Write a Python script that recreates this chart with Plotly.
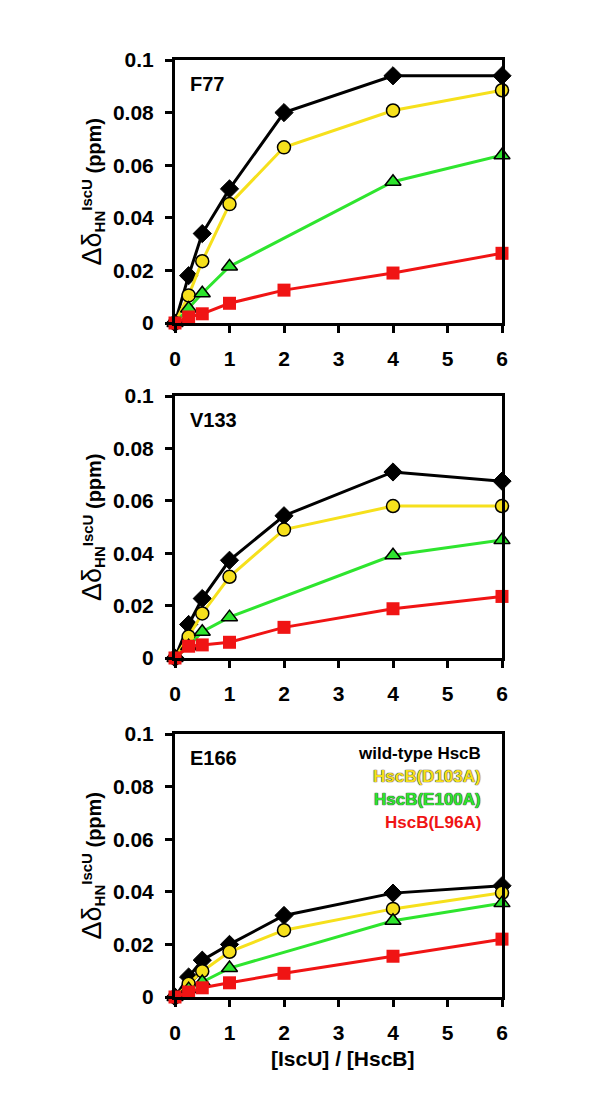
import plotly.graph_objects as go

# ---------------- data ----------------
x_main = [0, 0.25, 0.5, 1, 2, 4, 6]
x_green = [0, 0.25, 0.5, 1, 4, 6]

panels = ["F77", "V133", "E166"]

wt_F77 = [0, 0.018, 0.034, 0.051, 0.080, 0.094, 0.094]
d103_F77 = [0, 0.0105, 0.0235, 0.0452, 0.0668, 0.0808, 0.0885]
e100_F77 = [0, 0.0055, 0.0113, 0.0215, 0.0537, 0.0638]
l96_F77 = [0, 0.0023, 0.0035, 0.0075, 0.0125, 0.0190, 0.0265]

wt_V133 = [0, 0.0128, 0.0227, 0.0373, 0.0543, 0.0710, 0.0675]
d103_V133 = [0, 0.0082, 0.0170, 0.0310, 0.0490, 0.0580, 0.0580]
e100_V133 = [0, 0.0045, 0.0100, 0.0156, 0.0392, 0.0450]
l96_V133 = [0, 0.0045, 0.0050, 0.0060, 0.0117, 0.0188, 0.0235]

wt_E166 = [0, 0.0076, 0.0140, 0.0200, 0.0310, 0.0395, 0.0423]
d103_E166 = [0, 0.0050, 0.0098, 0.0172, 0.0254, 0.0335, 0.0396]
e100_E166 = [0, 0.0030, 0.0057, 0.0110, 0.0290, 0.0357]
l96_E166 = [0, 0.0019, 0.0035, 0.0054, 0.0090, 0.0155, 0.0220]

series_names = ["wild-type HscB", "HscB(D103A)", "HscB(E100A)", "HscB(L96A)"]

y_tickvals = [0, 0.02, 0.04, 0.06, 0.08, 0.1]
y_ticktext = ["0", "0.02", "0.04", "0.06", "0.08", "0.1"]
x_tickvals = [0, 1, 2, 3, 4, 5, 6]
x_ticktext = ["0", "1", "2", "3", "4", "5", "6"]

data = [
    (wt_F77, d103_F77, e100_F77, l96_F77),
    (wt_V133, d103_V133, e100_V133, l96_V133),
    (wt_E166, d103_E166, e100_E166, l96_E166),
]

# ---------------- style ----------------
W, H = 600, 1108
OFF = 8  # page body margin
FONT = "Liberation Sans, Arial, sans-serif"
BLACK = "#000000"
YELLOW = "#f6e01c"
GREEN = "#2ee52e"
RED = "#f01414"

x_left, x_right = 175, 502
panel_px = [(60, 323), (396, 658), (734, 997)]  # (top, bottom) in pixels


def fx(p):
    return (p - OFF) / W


def fy(p):
    return 1 - (p - OFF) / H


fig = go.Figure()

for i, (wt, d103, e100, l96) in enumerate(data):
    xa = "x" if i == 0 else f"x{i+1}"
    ya = "y" if i == 0 else f"y{i+1}"
    common = dict(xaxis=xa, yaxis=ya, mode="lines+markers", cliponaxis=False,
                  showlegend=False, hoverinfo="x+y")
    fig.add_trace(go.Scatter(x=x_main, y=wt, name=series_names[0],
                             line=dict(color=BLACK, width=3),
                             marker=dict(symbol="diamond", size=14, color=BLACK,
                                         line=dict(color=BLACK, width=1)), **common))
    fig.add_trace(go.Scatter(x=x_main, y=d103, name=series_names[1],
                             line=dict(color=YELLOW, width=3),
                             marker=dict(symbol="circle", size=13, color=YELLOW,
                                         line=dict(color=BLACK, width=1.5)), **common))
    fig.add_trace(go.Scatter(x=x_green, y=e100, name=series_names[2],
                             line=dict(color=GREEN, width=3),
                             marker=dict(symbol="triangle-up", size=14, color=GREEN,
                                         line=dict(color=BLACK, width=1.5)), **common))
    fig.add_trace(go.Scatter(x=x_main, y=l96, name=series_names[3],
                             line=dict(color=RED, width=3),
                             marker=dict(symbol="square", size=13, color=RED,
                                         line=dict(color=RED, width=0)), **common))

axis_common = dict(showline=True, linecolor=BLACK, linewidth=3, mirror=True,
                   showgrid=False, zeroline=False, ticks="outside", ticklen=7,
                   tickwidth=3, tickcolor=BLACK, automargin=False,
                   tickfont=dict(family=FONT, size=21, color=BLACK, weight="bold"))

layout_axes = {}
for i, (top, bot) in enumerate(panel_px):
    xk = "xaxis" if i == 0 else f"xaxis{i+1}"
    yk = "yaxis" if i == 0 else f"yaxis{i+1}"
    ya = "y" if i == 0 else f"y{i+1}"
    xa = "x" if i == 0 else f"x{i+1}"
    layout_axes[xk] = dict(domain=[fx(x_left), fx(x_right)], range=[0, 6],
                           anchor=ya, tickvals=x_tickvals, ticktext=x_ticktext,
                           ticklabelstandoff=8, **axis_common)
    layout_axes[yk] = dict(domain=[fy(bot), fy(top)], range=[0, 0.1],
                           anchor=xa, tickvals=y_tickvals, ticktext=y_ticktext,
                           ticklabelstandoff=7, **axis_common)

annotations = []
ytitle = ("<span style='font-weight:normal;font-size:27px'>Δδ</span>"
          "<sub><span style='font-size:15px'>HN</span></sub>"
          "<sup><span style='font-size:15px'>IscU</span></sup> (ppm)")
for i, (top, bot) in enumerate(panel_px):
    xa = "x" if i == 0 else f"x{i+1}"
    ya = "y" if i == 0 else f"y{i+1}"
    annotations.append(dict(x=0.04, y=0.91, xref=f"{xa} domain", yref=f"{ya} domain",
                            text=panels[i], showarrow=False, xanchor="left", yanchor="middle",
                            font=dict(family=FONT, size=20, color=BLACK, weight="bold")))
    annotations.append(dict(x=fx(92), y=fy((top + bot) / 2), xref="paper", yref="paper",
                            text=ytitle, showarrow=False, textangle=-90,
                            xanchor="center", yanchor="middle",
                            font=dict(family=FONT, size=20, color=BLACK, weight="bold")))

legend_colors = [BLACK, YELLOW, GREEN, RED]
legend_shadows = ["none", "0 0 1px #222, 0 0 1px #222", "0 0 1px #222, 0 0 1px #222", "none"]
legend_py = [753, 776, 799, 822]
for name, col, sh, py in zip(series_names, legend_colors, legend_shadows, legend_py):
    annotations.append(dict(x=5.65, y=(997 - py) / (997 - 734) * 0.1, xref="x3", yref="y3",
                            text=name, showarrow=False, xanchor="right", yanchor="middle",
                            font=dict(family=FONT, size=17, color=col, weight="bold",
                                      shadow=sh)))

annotations.append(dict(x=fx(343), y=fy(1058), xref="paper", yref="paper",
                        text="[IscU] / [HscB]", showarrow=False, xanchor="center",
                        yanchor="middle",
                        font=dict(family=FONT, size=21, color=BLACK, weight="bold")))

fig.update_layout(width=W, height=H, margin=dict(l=0, r=0, t=0, b=0),
                  paper_bgcolor="white", plot_bgcolor="white",
                  annotations=annotations, **layout_axes)

fig.write_html("out.html")
